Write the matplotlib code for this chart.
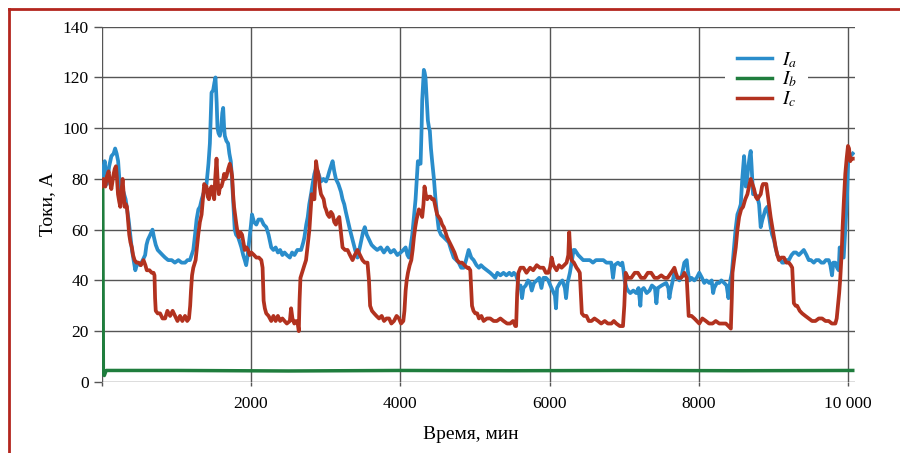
#!/usr/bin/env python
"""Phase currents over time (Ia, Ib, Ic), recreated with matplotlib."""

import matplotlib
matplotlib.use("Agg")
import matplotlib.pyplot as plt
from matplotlib.lines import Line2D

# --- data (time in minutes, current in A) ---
ia_t = [0, 20, 40, 70, 100, 130, 160, 180, 200, 220, 240, 250, 290, 320, 340, 360, 382, 405, 427, 450,
        480, 515, 550, 582, 600, 618, 650, 680, 700, 724, 750, 782, 815, 849, 890, 938, 980, 1027, 1070, 1116,
        1150, 1182, 1205, 1227, 1250, 1271, 1295, 1316, 1340, 1360, 1385, 1404, 1430, 1449, 1460, 1471, 1493, 1510, 1524, 1540,
        1551, 1565, 1582, 1600, 1615, 1627, 1640, 1649, 1670, 1693, 1710, 1729, 1745, 1760, 1782, 1800, 1827, 1850, 1871, 1895,
        1916, 1935, 1951, 1982, 2000, 2013, 2040, 2071, 2100, 2138, 2170, 2204, 2235, 2271, 2300, 2330, 2360, 2390, 2420, 2449,
        2480, 2520, 2550, 2582, 2620, 2671, 2700, 2715, 2740, 2760, 2780, 2804, 2825, 2849, 2870, 2893, 2915, 2937, 2970, 3004,
        3030, 3049, 3070, 3093, 3115, 3137, 3170, 3204, 3226, 3249, 3270, 3293, 3325, 3360, 3395, 3426, 3450, 3471, 3500, 3524,
        3550, 3582, 3615, 3649, 3690, 3737, 3780, 3826, 3870, 3915, 3960, 4004, 4040, 4071, 4095, 4115, 4140, 4160, 4182, 4204,
        4220, 4235, 4255, 4271, 4285, 4293, 4305, 4315, 4325, 4337, 4355, 4369, 4385, 4395, 4410, 4426, 4450, 4471, 4495, 4515,
        4545, 4582, 4615, 4649, 4680, 4715, 4750, 4782, 4815, 4849, 4880, 4915, 4950, 4982, 5020, 5053, 5080, 5116, 5160, 5204,
        5240, 5271, 5300, 5340, 5382, 5420, 5460, 5493, 5520, 5551, 5570, 5582, 5610, 5630, 5649, 5680, 5710, 5738, 5760, 5790,
        5827, 5860, 5890, 5916, 5950, 5982, 6010, 6040, 6071, 6085, 6100, 6138, 6170, 6204, 6220, 6240, 6271, 6300, 6320, 6338,
        6360, 6382, 6415, 6449, 6490, 6538, 6580, 6620, 6671, 6720, 6760, 6804, 6825, 6849, 6870, 6915, 6950, 6973, 6990, 7004,
        7030, 7049, 7080, 7120, 7160, 7190, 7215, 7227, 7260, 7300, 7338, 7370, 7410, 7430, 7449, 7500, 7560, 7590, 7604, 7620,
        7650, 7671, 7700, 7738, 7770, 7790, 7804, 7836, 7850, 7871, 7900, 7938, 7970, 8004, 8040, 8071, 8100, 8138, 8170, 8190,
        8204, 8240, 8271, 8300, 8338, 8370, 8395, 8404, 8420, 8440, 8455, 8471, 8490, 8515, 8540, 8560, 8580, 8604, 8615, 8627,
        8645, 8662, 8680, 8693, 8705, 8724, 8750, 8782, 8805, 8827, 8850, 8871, 8890, 8915, 8940, 8960, 8980, 9004, 9025, 9049,
        9070, 9093, 9115, 9138, 9170, 9204, 9240, 9271, 9300, 9338, 9370, 9404, 9440, 9471, 9500, 9538, 9570, 9604, 9640, 9671,
        9700, 9738, 9760, 9782, 9800, 9827, 9850, 9871, 9885, 9900, 9938, 9960, 9982, 9995, 10004, 10030, 10060]
ia_v = [78, 84, 87, 78, 85, 89, 90, 92, 90, 87, 78, 74, 75, 72, 68, 64, 58, 52, 48, 44,
        47, 46, 48, 50, 54, 56, 58, 60, 57, 54, 52, 51, 50, 49, 48, 48, 47, 48, 47, 47,
        48, 48, 50, 52, 58, 64, 68, 69, 72, 74, 76, 78, 86, 94, 104, 114, 115, 118, 120, 110,
        100, 98, 97, 100, 106, 108, 100, 97, 95, 94, 90, 87, 80, 72, 60, 58, 57, 55, 53, 50,
        48, 46, 49, 57, 62, 66, 63, 62, 64, 64, 62, 61, 58, 53, 52, 53, 51, 52, 50, 51,
        50, 49, 51, 50, 52, 52, 55, 57, 62, 65, 70, 74, 78, 82, 84, 83, 81, 79, 80, 79,
        81, 83, 85, 87, 83, 80, 78, 75, 72, 70, 67, 64, 60, 56, 52, 49, 52, 55, 59, 61,
        58, 56, 54, 53, 52, 53, 51, 53, 51, 52, 50, 51, 52, 53, 50, 49, 54, 58, 65, 72,
        80, 87, 86, 86, 100, 111, 118, 123, 122, 120, 110, 103, 100, 99, 92, 87, 80, 72, 65, 60,
        58, 57, 56, 55, 52, 49, 48, 47, 45, 45, 48, 52, 49, 48, 46, 45, 46, 45, 44, 43,
        42, 41, 43, 42, 43, 42, 43, 42, 43, 42, 40, 37, 38, 33, 37, 38, 40, 39, 36, 39,
        40, 41, 37, 41, 41, 40, 38, 36, 34, 29, 37, 39, 40, 37, 33, 39, 43, 48, 52, 52,
        51, 50, 49, 48, 48, 48, 47, 48, 48, 48, 47, 47, 47, 41, 46, 47, 46, 47, 44, 40,
        37, 36, 35, 36, 35, 37, 30, 36, 37, 35, 36, 38, 37, 31, 37, 38, 39, 37, 33, 36,
        40, 43, 41, 40, 42, 45, 47, 48, 44, 40, 41, 40, 41, 43, 41, 39, 40, 39, 40, 35,
        37, 39, 39, 40, 39, 38, 33, 36, 40, 43, 48, 53, 60, 66, 68, 70, 80, 89, 84, 77,
        80, 85, 89, 91, 85, 74, 74, 73, 70, 61, 64, 66, 68, 69, 65, 61, 58, 56, 53, 50,
        49, 48, 47, 47, 48, 48, 50, 51, 51, 50, 51, 52, 50, 48, 48, 47, 48, 48, 47, 47,
        48, 48, 46, 42, 47, 47, 45, 44, 53, 50, 49, 60, 72, 84, 90, 89, 90]

ib_t = [0, 6, 14, 22, 35, 60, 1000, 2500, 4000, 5500, 7000, 8500, 10060]
ib_v = [74, 76, 78, 3, 2.5, 4.5, 4.5, 4.3, 4.5, 4.4, 4.5, 4.4, 4.5]

ic_t = [0, 25, 49, 70, 93, 110, 129, 145, 160, 175, 191, 205, 218, 235, 249, 265, 280, 295, 307, 325,
        338, 355, 369, 385, 404, 420, 440, 465, 493, 525, 560, 585, 604, 640, 671, 695, 707, 715, 724, 750,
        782, 815, 849, 880, 916, 950, 982, 1015, 1049, 1080, 1116, 1145, 1169, 1185, 1196, 1210, 1227, 1258, 1275, 1293,
        1315, 1338, 1355, 1373, 1390, 1404, 1420, 1436, 1455, 1471, 1490, 1507, 1520, 1538, 1552, 1569, 1585, 1604, 1622, 1640,
        1655, 1671, 1695, 1716, 1732, 1747, 1760, 1773, 1790, 1804, 1820, 1836, 1858, 1880, 1898, 1916, 1940, 1960, 1982, 2004,
        2040, 2071, 2105, 2138, 2155, 2169, 2185, 2204, 2235, 2271, 2300, 2330, 2360, 2390, 2420, 2449, 2480, 2520, 2537, 2555,
        2580, 2604, 2625, 2640, 2650, 2662, 2693, 2715, 2737, 2760, 2782, 2800, 2813, 2830, 2849, 2860, 2871, 2885, 2902, 2920,
        2937, 2955, 2973, 2990, 3004, 3025, 3049, 3070, 3093, 3115, 3137, 3160, 3182, 3200, 3226, 3260, 3293, 3325, 3360, 3390,
        3426, 3460, 3493, 3525, 3560, 3580, 3595, 3620, 3649, 3680, 3715, 3750, 3782, 3815, 3849, 3880, 3915, 3950, 3982, 4010,
        4040, 4055, 4071, 4085, 4102, 4125, 4147, 4165, 4182, 4200, 4217, 4233, 4249, 4270, 4293, 4310, 4324, 4340, 4360, 4380,
        4404, 4425, 4449, 4470, 4493, 4515, 4537, 4560, 4582, 4605, 4626, 4660, 4693, 4725, 4760, 4790, 4826, 4860, 4893, 4915,
        4937, 4950, 4960, 4980, 5004, 5030, 5053, 5085, 5116, 5160, 5204, 5250, 5293, 5340, 5382, 5430, 5471, 5510, 5540, 5551,
        5565, 5582, 5610, 5649, 5690, 5738, 5780, 5827, 5870, 5916, 5950, 5982, 6005, 6027, 6050, 6093, 6125, 6160, 6195, 6227,
        6250, 6262, 6275, 6293, 6325, 6360, 6385, 6404, 6418, 6431, 6460, 6493, 6525, 6560, 6600, 6649, 6690, 6738, 6780, 6827,
        6860, 6893, 6940, 6982, 7000, 7018, 7050, 7093, 7140, 7182, 7225, 7271, 7315, 7360, 7405, 7449, 7495, 7538, 7580, 7627,
        7650, 7671, 7690, 7715, 7760, 7790, 7804, 7836, 7850, 7862, 7900, 7938, 7970, 8004, 8045, 8093, 8135, 8182, 8225, 8271,
        8315, 8360, 8395, 8427, 8440, 8449, 8470, 8493, 8515, 8538, 8565, 8591, 8620, 8649, 8670, 8693, 8715, 8738, 8760, 8782,
        8805, 8827, 8845, 8858, 8880, 8902, 8920, 8938, 8960, 8982, 9005, 9027, 9050, 9071, 9105, 9138, 9170, 9204, 9230, 9249,
        9260, 9271, 9295, 9315, 9350, 9382, 9425, 9471, 9515, 9560, 9605, 9649, 9695, 9738, 9780, 9827, 9845, 9862, 9878, 9893,
        9910, 9924, 9942, 9960, 9978, 9996, 10010, 10027, 10040, 10060]
ic_v = [77, 80, 77, 81, 83, 79, 76, 79, 82, 84, 85, 80, 74, 71, 69, 75, 80, 74, 69, 70,
        69, 63, 58, 55, 53, 50, 48, 47, 47, 46, 48, 46, 44, 44, 43, 43, 42, 33, 28, 27,
        27, 25, 25, 28, 26, 28, 26, 24, 26, 24, 26, 24, 25, 30, 36, 42, 45, 48, 53, 58,
        63, 66, 72, 78, 77, 77, 73, 72, 76, 77, 74, 72, 80, 88, 80, 74, 77, 77, 79, 82,
        80, 81, 84, 86, 84, 81, 74, 69, 65, 62, 59, 57, 59, 58, 55, 52, 53, 52, 50, 51,
        50, 49, 49, 48, 45, 32, 29, 27, 26, 24, 26, 24, 26, 24, 25, 24, 23, 24, 29, 25,
        23, 24, 23, 20, 32, 41, 44, 46, 48, 54, 60, 68, 74, 72, 72, 80, 87, 84, 82, 77,
        74, 73, 72, 69, 68, 66, 65, 67, 66, 63, 62, 64, 65, 60, 53, 52, 52, 50, 48, 50,
        52, 50, 48, 47, 47, 40, 30, 28, 27, 26, 25, 26, 24, 25, 25, 23, 24, 26, 25, 23,
        24, 28, 36, 40, 43, 46, 48, 52, 57, 61, 64, 66, 68, 67, 65, 70, 77, 74, 72, 73,
        73, 72, 72, 69, 66, 65, 64, 62, 61, 59, 57, 55, 53, 51, 48, 47, 47, 46, 45, 45,
        44, 36, 30, 28, 27, 27, 25, 26, 24, 25, 25, 24, 24, 25, 24, 23, 23, 24, 22, 22,
        35, 43, 45, 45, 43, 45, 44, 46, 45, 45, 43, 43, 45, 49, 46, 44, 46, 45, 46, 47,
        50, 59, 52, 48, 47, 45, 44, 43, 35, 27, 26, 26, 24, 24, 25, 24, 23, 24, 23, 23,
        24, 23, 22, 22, 30, 43, 41, 41, 43, 43, 41, 41, 43, 43, 41, 41, 42, 41, 41, 43,
        44, 45, 43, 41, 41, 42, 43, 41, 33, 26, 26, 25, 24, 23, 25, 24, 23, 23, 24, 23,
        23, 23, 22, 21, 33, 43, 48, 53, 60, 65, 68, 69, 72, 74, 77, 80, 78, 76, 73, 72,
        73, 74, 77, 78, 78, 78, 74, 70, 65, 61, 57, 53, 50, 48, 49, 49, 47, 47, 46, 45,
        38, 31, 30, 30, 28, 27, 26, 25, 24, 24, 25, 25, 24, 24, 23, 23, 25, 30, 35, 41,
        50, 61, 72, 82, 88, 93, 92, 87, 88, 88]

x_ticks = [0, 2000, 4000, 6000, 8000, 10000]
x_tick_labels = ["", "2000", "4000", "6000", "8000", "10 000"]
y_ticks = [0, 20, 40, 60, 80, 100, 120, 140]

BLUE = "#2a8dcb"
GREEN = "#1f7d3d"
RED = "#b2321f"
GRID = "#555555"
FRAME = "#b3261e"

plt.rcParams["font.family"] = ["Liberation Serif", "DejaVu Serif"]
plt.rcParams["mathtext.fontset"] = "stix"

fig = plt.figure(figsize=(9, 4.53), dpi=100)
ax = fig.add_axes([0.113, 0.157, 0.837, 0.784])

ax.plot(ia_t, ia_v, color=BLUE, lw=2.7, solid_joinstyle="round")
ax.plot(ib_t, ib_v, color=GREEN, lw=2.5)
ax.plot(ic_t, ic_v, color=RED, lw=2.7, solid_joinstyle="round")

ax.set_xlim(0, 10090)
ax.set_ylim(0, 140)
ax.set_xticks(x_ticks)
ax.set_xticklabels(x_tick_labels)
ax.set_yticks(y_ticks)

for side in ax.spines.values():
    side.set_visible(False)
ax.grid(True, color=GRID, lw=1.0)
ax.set_axisbelow(True)
ax.tick_params(axis="y", length=6, width=1.0, color=GRID, pad=3.5, labelsize=12.5)
ax.tick_params(axis="x", length=3, width=1.0, color=GRID, pad=7, labelsize=12.5)

ax.set_xlabel("Время, мин", fontsize=14)
ax.set_ylabel("Токи, А", fontsize=14)
ax.xaxis.set_label_coords(0.49, -0.125)
ax.yaxis.set_label_coords(-0.06, 0.5)

handles = [Line2D([], [], color=c, lw=2.5) for c in (BLUE, GREEN, RED)]
leg = ax.legend(handles, ["$I_a$", "$I_b$", "$I_c$"], loc="center",
                bbox_to_anchor=(0.883, 0.851), fontsize=14, frameon=True,
                framealpha=1, facecolor="white", edgecolor="none",
                handlelength=1.8, handletextpad=0.5, labelspacing=0.0,
                borderpad=0.6, borderaxespad=0, fancybox=False)

# red page frame (top and left edges)
fig.add_artist(Line2D([0.01, 0.01], [0, 0.98], transform=fig.transFigure,
                      color=FRAME, lw=2))
fig.add_artist(Line2D([0.01, 1.0], [0.98, 0.98], transform=fig.transFigure,
                      color=FRAME, lw=2))

fig.savefig("out.png", dpi=100)
